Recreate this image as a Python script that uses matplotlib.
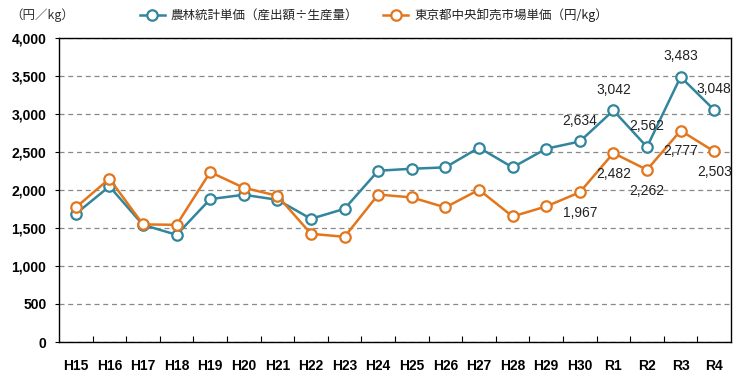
import matplotlib.pyplot as plt
from matplotlib.ticker import FuncFormatter

plt.rcParams['font.family'] = ['Liberation Sans', 'Noto Sans CJK JP', 'DejaVu Sans']

years = ["H15", "H16", "H17", "H18", "H19", "H20", "H21", "H22", "H23", "H24",
         "H25", "H26", "H27", "H28", "H29", "H30", "R1", "R2", "R3", "R4"]
nourin = [1684, 2044, 1539, 1408, 1877, 1934, 1868, 1618, 1750, 2250,
          2276, 2294, 2553, 2294, 2539, 2634, 3042, 2562, 3483, 3048]
tokyo = [1767, 2145, 1545, 1539, 2232, 2026, 1921, 1421, 1382, 1937,
         1899, 1768, 2000, 1649, 1781, 1967, 2482, 2262, 2777, 2503]
label_from = 15  # data labels shown from H30 onward

BLUE = "#31859C"
ORANGE = "#E3761C"

fig = plt.figure(figsize=(7.56, 3.78), dpi=100)
ax = fig.add_axes([59/756, 1 - 342/378, (731 - 59)/756, (342 - 37.5)/378])

x = list(range(len(years)))
l1, = ax.plot(x, nourin, color=BLUE, lw=1.8, marker='o', ms=7.5,
              mfc='white', mec=BLUE, mew=1.6, label="農林統計単価（産出額÷生産量）")
l2, = ax.plot(x, tokyo, color=ORANGE, lw=1.8, marker='o', ms=7.5,
              mfc='white', mec=ORANGE, mew=1.6, label="東京都中央卸売市場単価（円/kg）")

lab_font = ['Liberation Sans Narrow', 'Liberation Sans']
for i in range(label_from, len(years)):
    ax.annotate(f"{nourin[i]:,}", (x[i], nourin[i]), xytext=(0, 15),
                textcoords='offset points', ha='center', va='center',
                fontsize=10, color='#222222', family=lab_font)
    ax.annotate(f"{tokyo[i]:,}", (x[i], tokyo[i]), xytext=(0, -15),
                textcoords='offset points', ha='center', va='center',
                fontsize=10, color='#222222', family=lab_font)

ax.set_xlim(-0.5, len(years) - 0.5)
ax.set_ylim(0, 4000)
ax.set_yticks(range(0, 4001, 500))
ax.yaxis.set_major_formatter(FuncFormatter(lambda v, p: f"{int(v):,}"))
ax.set_xticks(x)
ax.set_xticklabels(years, fontweight='bold', fontsize=10)
ax.set_xticks([i + 0.5 for i in range(len(years) - 1)], minor=True)
ax.tick_params(axis='x', which='major', length=0, pad=12)
ax.tick_params(axis='x', which='minor', direction='in', length=4, width=0.8)
ax.tick_params(axis='y', length=3, width=0.8, pad=6)
for t in ax.get_yticklabels():
    t.set_fontweight('bold')
    t.set_fontsize(10)

ax.grid(axis='y', color='#888888', ls=(0, (4, 3)), lw=0.9)
ax.set_axisbelow(True)
for s in ax.spines.values():
    s.set_color('black')
    s.set_linewidth(1.0)

fig.text(10/756, 1 - 15/378, "（円／kg）", fontsize=9, va='center', ha='left',
         family=['Noto Sans CJK JP', 'DejaVu Sans'], color='#333333')

leg = fig.legend(handles=[l1, l2], loc='center', bbox_to_anchor=(374/756, 1 - 15/378),
                 ncol=2, frameon=False, fontsize=9, handlelength=2.0,
                 handletextpad=0.5, columnspacing=2.0,
                 prop={'family': ['Noto Sans CJK JP', 'DejaVu Sans'], 'size': 9})
for t in leg.get_texts():
    t.set_color('#222222')

fig.savefig("out.png", dpi=100)
